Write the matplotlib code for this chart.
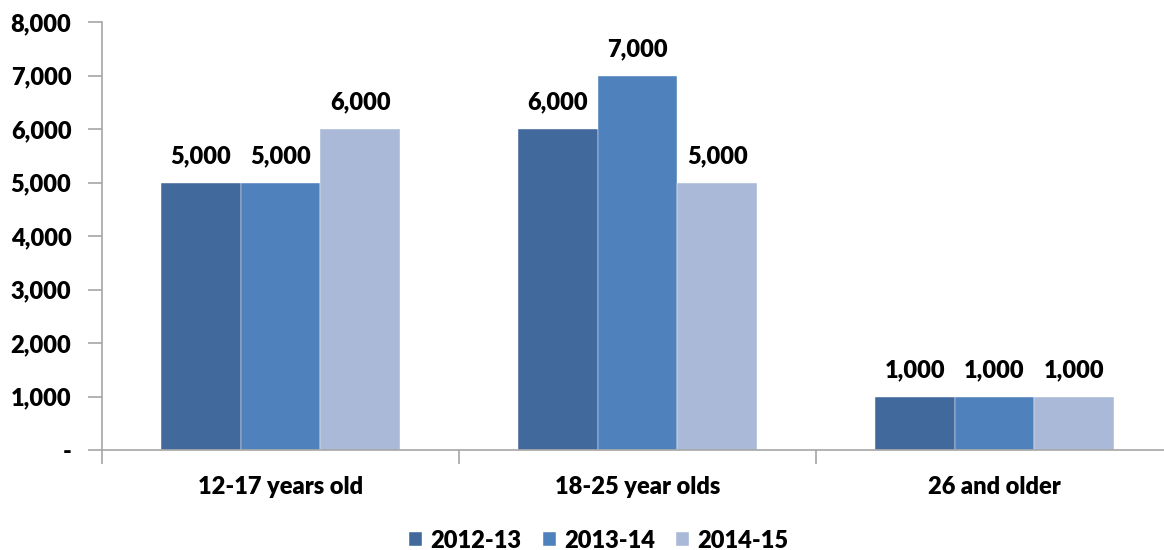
import numpy as np
import matplotlib
matplotlib.use("Agg")
import matplotlib.pyplot as plt
from matplotlib.ticker import FuncFormatter

# data
categories = ["12-17 years old", "18-25 year olds", "26 and older"]
series_names = ["2012-13", "2013-14", "2014-15"]
v_2012 = [5000, 6000, 1000]
v_2013 = [5000, 7000, 1000]
v_2014 = [6000, 5000, 1000]
colors = ["#41699C", "#4F81BD", "#AAB9D7"]

plt.rcParams["font.family"] = ["Lato", "DejaVu Sans"]
plt.rcParams["font.weight"] = "heavy"

fig = plt.figure(figsize=(11.64, 5.5), dpi=100)
ax = fig.add_axes([0.0876, 0.1818, 0.92, 0.778])

x = np.arange(len(categories))
w = 0.2233
for i, (vals, name) in enumerate(zip([v_2012, v_2013, v_2014], series_names)):
    bars = ax.bar(x + (i - 1) * w, vals, width=w, color=colors[i], label=name,
                  edgecolor="white", linewidth=0.3, zorder=2)
    for b, v in zip(bars, vals):
        ax.annotate(f"{v:,}", (b.get_x() + b.get_width() / 2, v),
                    xytext=(0, 11), textcoords="offset points",
                    ha="center", va="bottom", fontsize=17)

ax.set_xlim(-0.5, 2.5)
ax.set_ylim(0, 8000)
ax.set_yticks(range(0, 8001, 1000))
ax.yaxis.set_major_formatter(FuncFormatter(lambda v, p: "-" if v == 0 else f"{int(v):,}"))
ax.set_xticks(x)
ax.set_xticklabels(categories)
ax.set_xticks([-0.5, 0.5, 1.5, 2.5], minor=True)
ax.tick_params(axis="x", which="major", length=0, pad=19, labelsize=17)
ax.tick_params(axis="x", which="minor", length=10, color="#A6A6A6", width=1.2)
ax.tick_params(axis="y", length=10, color="#A6A6A6", width=1.2, labelsize=17, pad=12)

for s in ["top", "right"]:
    ax.spines[s].set_visible(False)
for s in ["left", "bottom"]:
    ax.spines[s].set_color("#A6A6A6")
    ax.spines[s].set_linewidth(1.2)

leg = ax.legend(loc="center", bbox_to_anchor=(0.464, -0.212), ncol=3, frameon=False,
                fontsize=17, handlelength=0.55, handleheight=0.55,
                columnspacing=0.9, handletextpad=0.35)

fig.savefig("out.png", dpi=100)
